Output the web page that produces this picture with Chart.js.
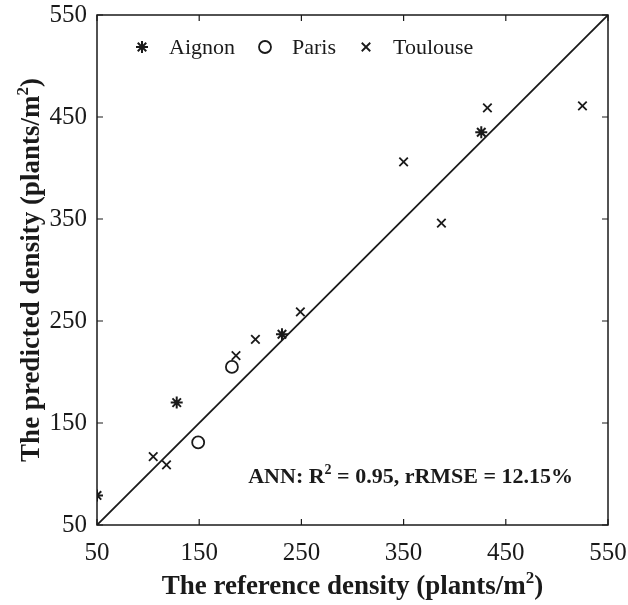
<!DOCTYPE html>
<html>
<head>
<meta charset="utf-8">
<script src="https://cdn.jsdelivr.net/npm/chart.js@4/dist/chart.umd.min.js"></script>
<style>
  html, body { margin: 0; padding: 0; background: #fff; }
  #wrap { width: 628px; height: 605px; }
</style>
</head>
<body>
<div id="wrap"><canvas id="densityChart"></canvas></div>
<script>
// ===== DATA =====
const aignonRef = [50, 128, 231, 426];
const aignonPred = [79, 170, 237, 435];
const parisRef = [149, 182];
const parisPred = [131, 205];
const toulouseRef = [105, 118, 186, 205, 249, 350, 387, 432, 525];
const toulousePred = [117, 109, 216, 232, 259, 406, 346, 459, 461];
const tickValues = [50, 150, 250, 350, 450, 550];
const axisMin = 50, axisMax = 550;

const toPoints = (xs, ys) => xs.map((x, i) => ({ x: x, y: ys[i] }));
const serif = "'Liberation Serif', 'Times New Roman', serif";
const ink = '#1a1a1a';

// text with a raised "2": parts = [[text, isSup], ...]
function drawSup(ctx, parts, x, y, size, align) {
    const big = 'bold ' + size + 'px ' + serif;
    const small = 'bold ' + Math.round(size * 0.62) + 'px ' + serif;
    let total = 0;
    parts.forEach(p => { ctx.font = p[1] ? small : big; total += ctx.measureText(p[0]).width; });
    let cx = align === 'right' ? x - total : align === 'center' ? x - total / 2 : x;
    ctx.textAlign = 'left';
    ctx.textBaseline = 'alphabetic';
    parts.forEach(p => {
        ctx.font = p[1] ? small : big;
        ctx.fillText(p[0], cx, p[1] ? y - size * 0.42 : y);
        cx += ctx.measureText(p[0]).width;
    });
}

// ticks inside, box, legend, titles, annotation
const framePlugin = {
    id: 'frame',
    afterDraw(chart) {
        const { ctx, chartArea: a, scales } = chart;
        ctx.save();
        ctx.strokeStyle = ink;
        ctx.lineWidth = 1.5;
        ctx.strokeRect(a.left, a.top, a.right - a.left, a.bottom - a.top);
        ctx.lineWidth = 1.2;
        const len = 6;
        tickValues.forEach(v => {
            const px = scales.x.getPixelForValue(v);
            const py = scales.y.getPixelForValue(v);
            ctx.beginPath();
            ctx.moveTo(px, a.bottom); ctx.lineTo(px, a.bottom - len);
            ctx.moveTo(px, a.top); ctx.lineTo(px, a.top + len);
            ctx.moveTo(a.left, py); ctx.lineTo(a.left + len, py);
            ctx.moveTo(a.right, py); ctx.lineTo(a.right - len, py);
            ctx.stroke();
        });

        // legend
        ctx.fillStyle = ink;
        let lx = a.left + 45;
        const ly = a.top + 32;
        chart.data.datasets.slice(0, 3).forEach(ds => {
            ctx.save();
            ctx.strokeStyle = ds.borderColor;
            ctx.fillStyle = ds.backgroundColor;
            ctx.lineWidth = ds.borderWidth;
            Chart.helpers.drawPoint(ctx, { pointStyle: ds.pointStyle, radius: ds.pointRadius, borderWidth: ds.borderWidth, rotation: 0 }, lx, ly);
            ctx.restore();
            ctx.font = '22px ' + serif;
            ctx.textAlign = 'left';
            ctx.textBaseline = 'middle';
            ctx.fillStyle = ink;
            ctx.fillText(ds.label, lx + 27, ly + 1);
            lx += 27 + ctx.measureText(ds.label).width + 30;
        });

        // annotation
        drawSup(ctx, [['ANN: R', false], ['2', true], [' = 0.95, rRMSE = 12.15%', false]], a.right - 35, a.bottom - 42, 22, 'right');

        // axis titles
        drawSup(ctx, [['The reference density (plants/m', false], ['2', true], [')', false]], (a.left + a.right) / 2, 594, 27, 'center');
        ctx.save();
        ctx.translate(39, (a.top + a.bottom) / 2);
        ctx.rotate(-Math.PI / 2);
        drawSup(ctx, [['The predicted density (plants/m', false], ['2', true], [')', false]], 0, 0, 27, 'center');
        ctx.restore();
        ctx.restore();
    }
};

new Chart(document.getElementById('densityChart'), {
    type: 'scatter',
    data: {
        datasets: [
            { label: 'Aignon', data: toPoints(aignonRef, aignonPred), pointStyle: 'star', pointRadius: 6, borderColor: ink, backgroundColor: ink, borderWidth: 2 },
            { label: 'Paris', data: toPoints(parisRef, parisPred), pointStyle: 'circle', pointRadius: 6, borderColor: ink, backgroundColor: '#fff', borderWidth: 1.8 },
            { label: 'Toulouse', data: toPoints(toulouseRef, toulousePred), pointStyle: 'crossRot', pointRadius: 6, borderColor: ink, backgroundColor: ink, borderWidth: 1.8 },
            { label: '1:1', type: 'line', data: [{ x: axisMin, y: axisMin }, { x: axisMax, y: axisMax }], borderColor: ink, borderWidth: 1.8, pointRadius: 0, fill: false }
        ]
    },
    options: {
        responsive: true,
        maintainAspectRatio: false,
        animation: false,
        layout: { padding: { top: 15, right: 20, left: 0, bottom: 0 } },
        plugins: {
            legend: { display: false },
            tooltip: { enabled: false }
        },
        scales: {
            x: {
                type: 'linear', min: axisMin, max: axisMax,
                afterBuildTicks: s => { s.ticks = tickValues.map(v => ({ value: v })); },
                afterFit: s => { s.height = 80; s.paddingLeft = 0; s.paddingRight = 0; },
                grid: { display: false, drawTicks: false },
                border: { display: false },
                ticks: { color: ink, font: { family: serif, size: 25 }, padding: 13, maxRotation: 0 }
            },
            y: {
                type: 'linear', min: axisMin, max: axisMax,
                afterBuildTicks: s => { s.ticks = tickValues.map(v => ({ value: v })); },
                afterFit: s => { s.width = 97; s.paddingTop = 0; s.paddingBottom = 0; },
                grid: { display: false, drawTicks: false },
                border: { display: false },
                ticks: { color: ink, font: { family: serif, size: 25 }, padding: 10 }
            }
        }
    },
    plugins: [framePlugin]
});
</script>
</body>
</html>
